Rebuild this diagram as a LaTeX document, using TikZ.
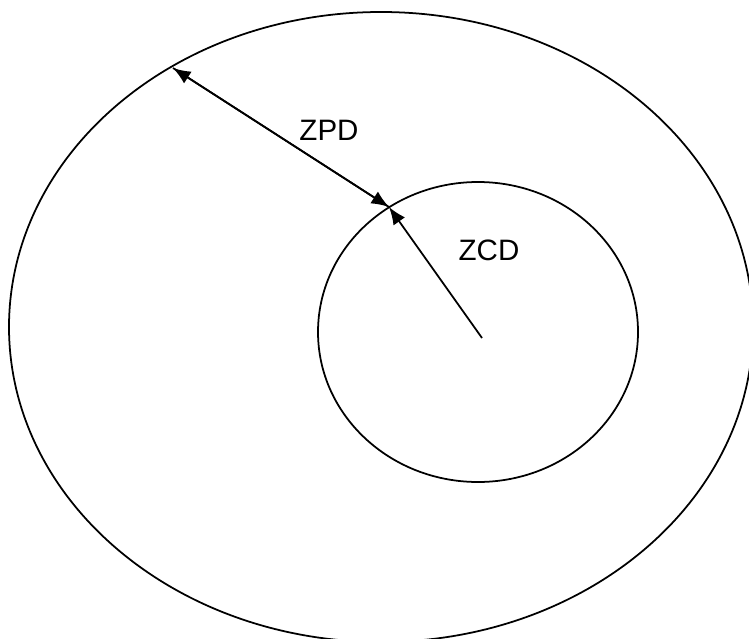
\documentclass[tikz,border=0pt]{standalone}
\usepackage{fontspec}
\setmainfont{Liberation Sans}
\usetikzlibrary{arrows.meta}
\begin{document}
\begin{tikzpicture}[x=0.02cm,y=-0.02cm,line width=1pt,
    zonearrow/.style={-{Latex[length=10pt,width=8pt]}},
    zonelabel/.style={font=\fontsize{16.8}{20}\selectfont}]
\useasboundingbox (0,0) rectangle (749,638);
\clip (0,0) rectangle (749,638);
\draw (381,327) ellipse (372 and 315);
\draw (478,332) ellipse (160 and 150);
\coordinate (centre) at (482,338);
\coordinate (meet) at (389,207);
\coordinate (outer) at (173,68);
\draw[zonearrow] (centre) -- (meet);
\draw[zonearrow] (meet) -- (outer);
\draw[zonearrow] (outer) -- (meet);
\node[zonelabel] (zpd) at (329,130) {ZPD};
\node[zonelabel] (zcd) at (489,250) {ZCD};
\end{tikzpicture}
\end{document}
